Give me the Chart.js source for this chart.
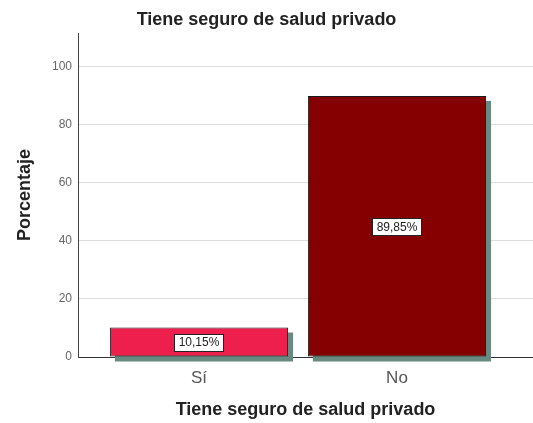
<!DOCTYPE html>
<html>
<head>
<meta charset="utf-8">
<script src="https://cdn.jsdelivr.net/npm/chart.js@4/dist/chart.umd.min.js"></script>
<style>
  html, body { margin: 0; padding: 0; background: #ffffff; }
  #wrap { width: 533px; height: 423px; }
</style>
</head>
<body>
<div id="wrap"><canvas id="c" width="533" height="423"></canvas></div>
<script>
// Respuestas: ¿tiene seguro de salud privado?
const categories = ['Sí', 'No'];
const percentages = [10.15, 89.85];
const barColors = ['#ee1f4d', '#850000'];
const yTicks = [0, 20, 40, 60, 80, 100];
const chartTitle = 'Tiene seguro de salud privado';
const xTitle = 'Tiene seguro de salud privado';
const yTitle = 'Porcentaje';

const FONT = "'Liberation Sans', Arial, sans-serif";

function formatPct(v) {
  return v.toFixed(2).replace('.', ',') + '%';
}

// Sombra desplazada detrás de cada barra
const barShadow = {
  id: 'barShadow',
  beforeDatasetsDraw(chart) {
    const ctx = chart.ctx;
    const meta = chart.getDatasetMeta(0);
    ctx.save();
    ctx.fillStyle = '#688a80';
    meta.data.forEach(bar => {
      const p = bar.getProps(['x', 'y', 'base', 'width'], true);
      ctx.fillRect(p.x - p.width / 2 + 5, p.y + 5, p.width, p.base - p.y);
    });
    ctx.restore();
  }
};

// Etiqueta con el porcentaje en el centro de cada barra
const barLabels = {
  id: 'barLabels',
  afterDatasetsDraw(chart) {
    const ctx = chart.ctx;
    const meta = chart.getDatasetMeta(0);
    const ds = chart.data.datasets[0];
    ctx.save();
    ctx.font = '12px ' + FONT;
    ctx.textAlign = 'center';
    ctx.textBaseline = 'middle';
    meta.data.forEach((bar, i) => {
      const p = bar.getProps(['x', 'y', 'base'], true);
      const txt = formatPct(ds.data[i].y);
      const cy = (p.y + p.base) / 2;
      const w = Math.round(ctx.measureText(txt).width + 8);
      const h = 17;
      const bx = Math.round(p.x - w / 2) + 0.5;
      const by = Math.round(cy - h / 2) + 0.5;
      ctx.fillStyle = '#ffffff';
      ctx.fillRect(bx, by, w, h);
      ctx.strokeStyle = '#222222';
      ctx.lineWidth = 1;
      ctx.strokeRect(bx, by, w, h);
      ctx.fillStyle = '#222222';
      ctx.fillText(txt, p.x, cy + 1);
    });
    ctx.restore();
  }
};

new Chart(document.getElementById('c'), {
  type: 'bar',
  data: {
    datasets: [{
      data: categories.map((c, i) => ({ x: i, y: percentages[i] })),
      backgroundColor: barColors,
      borderColor: '#1a1a1a',
      borderWidth: 1,
      borderSkipped: false,
      categoryPercentage: 1,
      barPercentage: 0.9
    }]
  },
  options: {
    responsive: false,
    animation: false,
    layout: { padding: { left: 0, right: 0, top: 0, bottom: 0 } },
    plugins: {
      legend: { display: false },
      tooltip: { enabled: false },
      title: {
        display: true,
        text: chartTitle,
        color: '#222222',
        font: { family: FONT, size: 18, weight: 'bold' },
        padding: { top: 9, bottom: 2.4 }
      }
    },
    scales: {
      x: {
        type: 'linear',
        offset: false,
        min: -0.611,
        max: 1.687,
        afterBuildTicks(scale) {
          scale.ticks = categories.map((c, i) => ({ value: i }));
        },
        afterFit(scale) { scale.height = 66; },
        grid: { display: false, drawTicks: false, offset: false },
        border: { display: true, color: '#333333', width: 1 },
        ticks: {
          autoSkip: false,
          maxRotation: 0,
          padding: 11,
          color: '#555555',
          font: { family: FONT, size: 17 },
          callback: (v) => categories[v] ?? ''
        },
        title: {
          display: true,
          text: xTitle,
          color: '#222222',
          font: { family: FONT, size: 18, weight: 'bold' },
          padding: { top: 0, bottom: 2 }
        }
      },
      y: {
        min: 0,
        max: 111.5,
        afterBuildTicks(scale) {
          scale.ticks = yTicks.map(v => ({ value: v }));
        },
        afterFit(scale) { scale.width = 78; },
        grid: { color: '#dddddd', lineWidth: 1, drawTicks: false },
        border: { display: true, color: '#444444', width: 1 },
        ticks: {
          padding: 6,
          color: '#666666',
          font: { family: FONT, size: 12 }
        },
        title: {
          display: true,
          text: yTitle,
          color: '#222222',
          font: { family: FONT, size: 18, weight: 'bold' },
          padding: { top: 14, bottom: 0 }
        }
      }
    }
  },
  plugins: [barShadow, barLabels]
});
</script>
</body>
</html>
